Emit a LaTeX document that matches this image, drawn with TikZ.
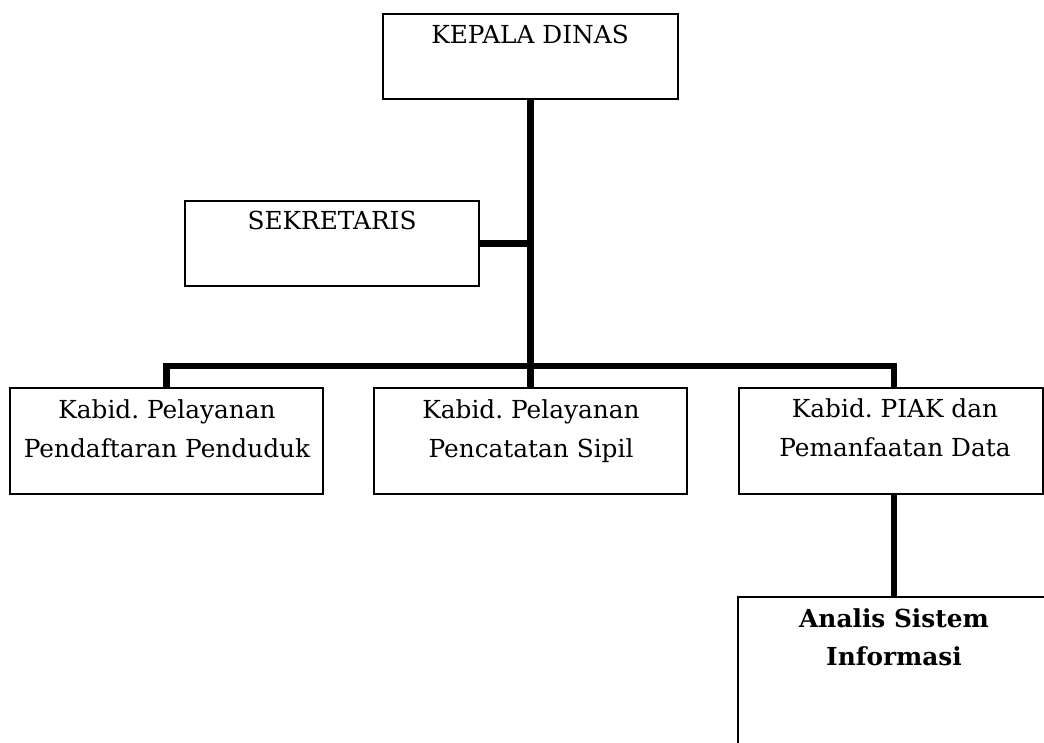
\documentclass[tikz,border=0pt]{standalone}
\usepackage{fontspec}
\setmainfont{DejaVu Serif}
\frenchspacing
\begin{document}
\begin{tikzpicture}[x=1pt,y=-1pt,
  box/.style={draw=black,line width=1.5pt,rectangle,inner sep=0pt},
  conn/.style={draw=black,line width=6.3pt,line join=miter,line cap=butt},
  lbl/.style={anchor=base,inner sep=0pt,
    font=\fontsize{24.8}{39.5}\selectfont}]
  \useasboundingbox (0,0) rectangle (1044,742);
  \clip (0,0) rectangle (1044,742);

  % boxes
  \node[box,minimum width=295pt,minimum height=85pt] (kd) at (530.5,56.5) {};
  \node[box,minimum width=294pt,minimum height=85pt] (sek) at (332,243.5) {};
  \node[box,minimum width=313pt,minimum height=106pt] (b1) at (166.5,441) {};
  \node[box,minimum width=313pt,minimum height=106pt] (b2) at (530.5,441) {};
  \node[box,minimum width=304pt,minimum height=106pt] (b3) at (891,441) {};
  \node[box,minimum width=320pt,minimum height=180pt] (asi) at (898,687) {};

  % labels
  \node[lbl] (tkd) at (530,43) {KEPALA DINAS};
  \node[lbl] (tsek) at (332,229) {SEKRETARIS};
  \node[lbl] (tb1) at (167,418) {\begin{tabular}[t]{@{}c@{}}Kabid. Pelayanan\\Pendaftaran Penduduk\end{tabular}};
  \node[lbl] (tb2) at (531,418) {\begin{tabular}[t]{@{}c@{}}Kabid. Pelayanan\\Pencatatan Sipil\end{tabular}};
  \node[lbl] (tb3) at (895,417) {\begin{tabular}[t]{@{}c@{}}Kabid. PIAK dan\\Pemanfaatan Data\end{tabular}};
  \node[lbl,font=\fontsize{24.8}{38}\selectfont\bfseries] (tasi) at (894,627) {\begin{tabular}[t]{@{}c@{}}Analis Sistem\\Informasi\end{tabular}};

  % junction points of the connector lines
  \coordinate (j) at (530.5,366);
  \coordinate (r) at (894,366);

  % connectors
  \draw[conn] (kd.south) -- (j);
  \draw[conn] (sek.east) -- (sek.east -| kd.south);
  \draw[conn] (b1.north) |- (r) -- (r |- b3.north);
  \draw[conn] (j) -- (b2.north);
  \draw[conn] (b3.south -| r) -- (asi.north -| r);
\end{tikzpicture}
\end{document}
